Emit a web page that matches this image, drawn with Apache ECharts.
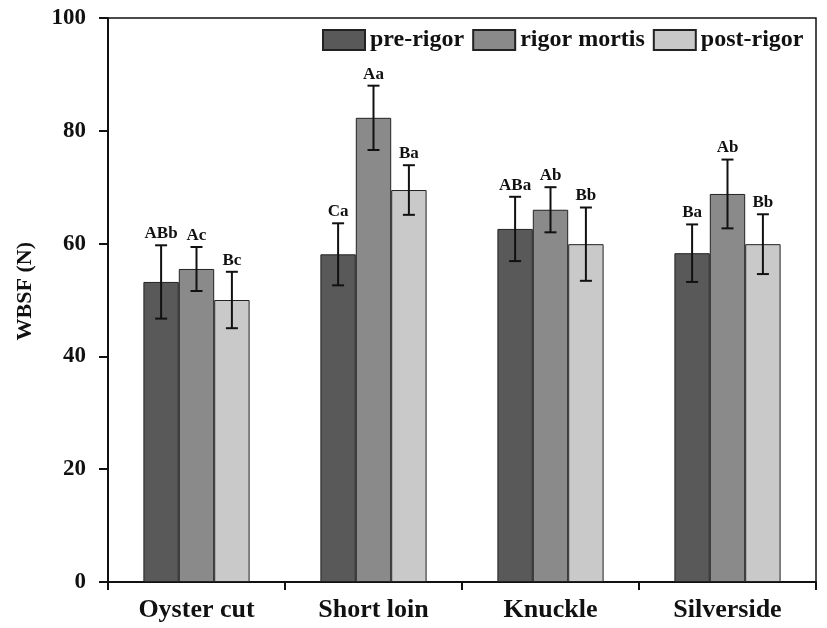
<!DOCTYPE html>
<html>
<head>
<meta charset="utf-8">
<script src="https://cdn.jsdelivr.net/npm/echarts@6/dist/echarts.min.js"></script>
<style>html,body{margin:0;padding:0;background:#fff}#c{width:827px;height:628px}</style>
</head>
<body>
<div id="c"></div>
<script>
const categories = ['Oyster cut', 'Short loin', 'Knuckle', 'Silverside'];
const seriesNames = ['pre-rigor', 'rigor mortis', 'post-rigor'];
const preRigor = [53.2, 58.1, 62.6, 58.3];
const preRigorErr = [6.5, 5.5, 5.7, 5.1];
const rigorMortis = [55.5, 82.3, 66.0, 68.8];
const rigorMortisErr = [3.9, 5.7, 4.0, 6.1];
const postRigor = [50.0, 69.5, 59.9, 59.9];
const postRigorErr = [5.0, 4.4, 6.5, 5.3];
const preRigorLetters = ['ABb', 'Ca', 'ABa', 'Ba'];
const rigorMortisLetters = ['Ac', 'Aa', 'Ab', 'Ab'];
const postRigorLetters = ['Bc', 'Ba', 'Bb', 'Bb'];
const yMin = 0, yMax = 100, yStep = 20;
const yAxisTitle = 'WBSF (N)';

const FONT = "'Liberation Serif', 'Times New Roman', serif";
const colors = ['#595959', '#8a8a8a', '#c9c9c9'];
const values = [preRigor, rigorMortis, postRigor];
const errs = [preRigorErr, rigorMortisErr, postRigorErr];
const letters = [preRigorLetters, rigorMortisLetters, postRigorLetters];
const CAT_GAP = 0.4;

function errRender(k) {
  return function (params, api) {
    const idx = api.value(0), v = api.value(1), e = api.value(2);
    const catW = api.size([1, 0])[0];
    const barW = catW * (1 - CAT_GAP) / 3;
    const off = (k - 1) * barW;
    const t = api.coord([idx, v + e]);
    const b = api.coord([idx, v - e]);
    const x = t[0] + off;
    const cap = 6;
    const st = { stroke: '#111', lineWidth: 2 };
    return {
      type: 'group',
      children: [
        { type: 'line', shape: { x1: x, y1: t[1], x2: x, y2: b[1] }, style: st },
        { type: 'line', shape: { x1: x - cap, y1: t[1], x2: x + cap, y2: t[1] }, style: st },
        { type: 'line', shape: { x1: x - cap, y1: b[1], x2: x + cap, y2: b[1] }, style: st },
        { type: 'text', style: { x: x, y: t[1] - 3, text: letters[k][params.dataIndex], align: 'center', verticalAlign: 'bottom', font: 'bold 17px ' + FONT, fill: '#111' } }
      ]
    };
  };
}

const series = [];
for (let k = 0; k < 3; k++) {
  series.push({
    name: seriesNames[k], type: 'bar', data: values[k],
    barGap: '0%', barCategoryGap: (CAT_GAP * 100) + '%',
    itemStyle: { color: colors[k], borderColor: '#222', borderWidth: 1 }
  });
}
for (let k = 0; k < 3; k++) {
  series.push({
    type: 'custom', name: 'err' + k, z: 5,
    renderItem: errRender(k),
    data: categories.map((c, i) => [i, values[k][i], errs[k][i]])
  });
}

const chart = echarts.init(document.getElementById('c'), null, { renderer: 'canvas' });
chart.setOption({
  animation: false,
  backgroundColor: '#fff',
  grid: { left: 108, right: 11, top: 18, bottom: 46, show: true, borderColor: '#111', borderWidth: 1.5, backgroundColor: 'transparent' },
  legend: {
    data: seriesNames, left: 317, top: 23, itemWidth: 42, itemHeight: 20, itemGap: 8, icon: 'rect',
    textStyle: { fontFamily: FONT, fontWeight: 'bold', fontSize: 24, color: '#111' }
  },
  graphic: [{
    type: 'text', left: 14, top: 242, rotation: Math.PI / 2,
    style: { text: yAxisTitle, font: 'bold 22px ' + FONT, fill: '#111' }
  }],
  xAxis: {
    type: 'category', data: categories,
    axisLine: { lineStyle: { color: '#111', width: 2 } },
    axisTick: { show: true, length: 8, interval: 0, lineStyle: { color: '#111', width: 2 } },
    axisLabel: { margin: 15, fontFamily: FONT, fontWeight: 'bold', fontSize: 26, color: '#111', interval: 0 },
    splitLine: { show: false }
  },
  yAxis: {
    type: 'value', min: yMin, max: yMax, interval: yStep,
    axisLine: { show: true, lineStyle: { color: '#111', width: 2 } },
    axisTick: { show: true, length: 9, lineStyle: { color: '#111', width: 2 } },
    axisLabel: { margin: 22, fontFamily: FONT, fontWeight: 'bold', fontSize: 23, color: '#111' },
    splitLine: { show: false }
  },
  series: series
});
</script>
</body>
</html>
